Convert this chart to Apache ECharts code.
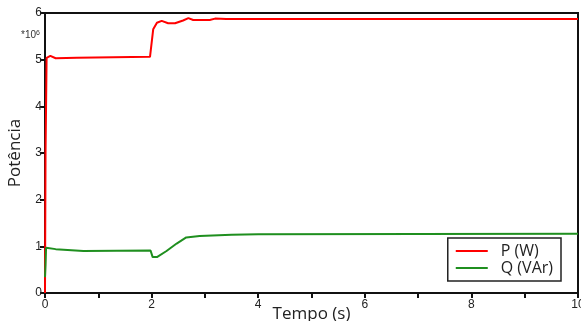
<!DOCTYPE html>
<html>
<head>
<meta charset="utf-8">
<script src="https://cdn.jsdelivr.net/npm/echarts@6/dist/echarts.min.js"></script>
<style>
  html, body { margin: 0; padding: 0; background: #fff; }
  #chart { width: 581px; height: 321px; }
</style>
</head>
<body>
<div id="chart"></div>
<script>
// P (W), in units of 1e6
const timeP = [0, 0.01, 0.03, 0.1, 0.2, 0.6, 1.97, 2.0, 2.03, 2.1, 2.19, 2.31, 2.44, 2.59, 2.69, 2.78, 3.09, 3.19, 3.4, 10];
const valuesP = [0, 3.0, 5.04, 5.08, 5.03, 5.04, 5.06, 5.07, 5.65, 5.79, 5.83, 5.78, 5.78, 5.84, 5.89, 5.85, 5.85, 5.88, 5.87, 5.87];
// Q (VAr), in units of 1e6
const timeQ = [0, 0.01, 0.02, 0.2, 0.72, 1.98, 2.02, 2.1, 2.28, 2.47, 2.65, 2.9, 3.5, 4.0, 10];
const valuesQ = [0.34, 0.6, 0.97, 0.94, 0.90, 0.91, 0.77, 0.77, 0.90, 1.06, 1.19, 1.22, 1.25, 1.26, 1.27];
const xTicks = [0, 2, 4, 6, 8, 10];

const zip = (xs, ys) => xs.map((x, i) => [x, ys[i]]);

const chart = echarts.init(document.getElementById('chart'));
chart.setOption({
  animation: false,
  grid: {
    left: 45, right: 3, top: 13, bottom: 28,
    outerBoundsMode: 'none',
    show: true, borderColor: '#111', borderWidth: 2
  },
  legend: {
    orient: 'vertical',
    right: 20, top: 238,
    padding: [5, 8, 5, 8],
    borderColor: '#222', borderWidth: 1.5,
    backgroundColor: '#fff',
    itemWidth: 32, itemHeight: 2, itemGap: 1,
    icon: 'rect',
    textStyle: { fontFamily: 'Open Sans', fontSize: 16, color: '#222', padding: [0, 0, 0, 8] },
    data: ['P (W)', 'Q (VAr)']
  },
  xAxis: {
    type: 'value', min: 0, max: 10, interval: 1,
    name: 'Tempo (s)', nameLocation: 'middle', nameGap: 13,
    nameMoveOverlap: false,
    nameTextStyle: { fontFamily: 'Open Sans', fontSize: 17, color: '#222', verticalAlign: 'top' },
    axisLine: { lineStyle: { color: '#111', width: 2 } },
    axisTick: { length: 5, lineStyle: { color: '#111', width: 2 } },
    axisLabel: {
      fontFamily: 'Liberation Sans', fontSize: 12, color: '#222', margin: 6,
      showMaxLabel: true,
      formatter: v => (xTicks.includes(v) ? String(v) : '')
    },
    splitLine: { show: false }
  },
  yAxis: {
    type: 'value', min: 0, max: 6, interval: 1,
    name: 'Potência', nameLocation: 'middle', nameGap: 21, nameRotate: 90,
    nameTextStyle: { fontFamily: 'Open Sans', fontSize: 17, color: '#222' },
    axisLine: { lineStyle: { color: '#111', width: 2 } },
    axisTick: { length: 5, lineStyle: { color: '#111', width: 2 } },
    axisLabel: { fontFamily: 'Liberation Sans', fontSize: 12, color: '#222', margin: 3 },
    splitLine: { show: false }
  },
  graphic: [{
    type: 'text', left: 21, top: 30,
    style: {
      text: '{a|*10}{b|6}',
      rich: {
        a: { fontFamily: 'Liberation Sans', fontSize: 10, fill: '#333' },
        b: { fontFamily: 'Liberation Sans', fontSize: 7, fill: '#333', verticalAlign: 'top', padding: [0, 0, 4, 0] }
      }
    }
  }],
  series: [
    {
      name: 'P (W)', type: 'line', data: zip(timeP, valuesP),
      showSymbol: false, color: '#ff0000',
      lineStyle: { width: 2, color: '#ff0000' }
    },
    {
      name: 'Q (VAr)', type: 'line', data: zip(timeQ, valuesQ),
      showSymbol: false, color: '#1f8f1f',
      lineStyle: { width: 2, color: '#1f8f1f' }
    }
  ]
});
</script>
</body>
</html>
